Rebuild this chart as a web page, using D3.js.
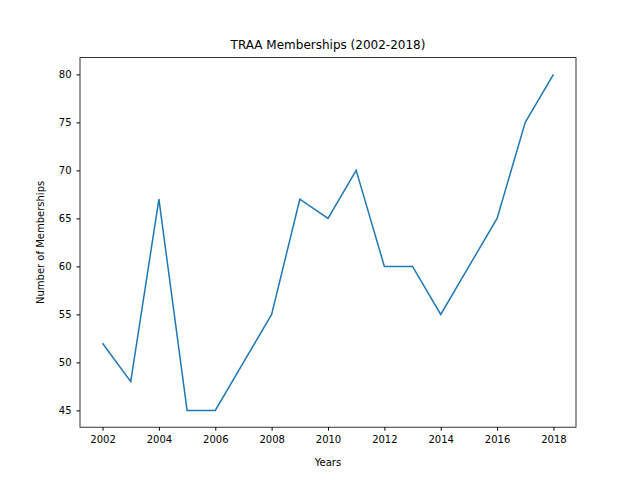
<!DOCTYPE html>
<html>
<head>
<script src="https://d3js.org/d3.v7.min.js"></script>
<style>
body { margin: 0; background: #fff; }
text { font-family: "DejaVu Sans", sans-serif; }
</style>
</head>
<body>
<svg id="chart" width="640" height="480"></svg>
<script>
const years = [2002, 2003, 2004, 2005, 2006, 2007, 2008, 2009, 2010, 2011, 2012, 2013, 2014, 2015, 2016, 2017, 2018];
const memberships = [52, 48, 67, 45, 45, 50, 55, 67, 65, 70, 60, 60, 55, 60, 65, 75, 80];
const xTicks = [2002, 2004, 2006, 2008, 2010, 2012, 2014, 2016, 2018];
const yTicks = [45, 50, 55, 60, 65, 70, 75, 80];

const plotLeft = 80, plotRight = 576, plotTop = 57.6, plotBottom = 427.2;
const svg = d3.select("#chart");

const x = d3.scaleLinear().domain([2001.2, 2018.8]).range([plotLeft, plotRight]);
const y = d3.scaleLinear().domain([43.25, 81.75]).range([plotBottom, plotTop]);

const xAxis = svg.append("g")
    .attr("transform", `translate(0,${plotBottom})`)
    .call(d3.axisBottom(x).tickValues(xTicks).tickFormat(d3.format("d")).tickSize(3.5).tickPadding(5));
const yAxis = svg.append("g")
    .attr("transform", `translate(${plotLeft},0)`)
    .call(d3.axisLeft(y).tickValues(yTicks).tickSize(3.5).tickPadding(5));
[xAxis, yAxis].forEach(a => {
    a.selectAll("text").attr("font-size", 10).attr("fill", "#000").style("font-family", "DejaVu Sans");
    a.select(".domain").remove();
});

svg.append("rect")
    .attr("x", plotLeft).attr("y", plotTop)
    .attr("width", plotRight - plotLeft).attr("height", plotBottom - plotTop)
    .attr("fill", "none").attr("stroke", "#000").attr("stroke-width", 0.8);

svg.append("path")
    .datum(years.map((yr, i) => [yr, memberships[i]]))
    .attr("fill", "none")
    .attr("stroke", "#1f77b4")
    .attr("stroke-width", 1.5)
    .attr("d", d3.line().x(d => x(d[0])).y(d => y(d[1])));

svg.append("text")
    .attr("x", (plotLeft + plotRight) / 2).attr("y", 49)
    .attr("text-anchor", "middle").attr("font-size", 12)
    .text("TRAA Memberships (2002-2018)");
svg.append("text")
    .attr("x", (plotLeft + plotRight) / 2).attr("y", 466)
    .attr("text-anchor", "middle").attr("font-size", 10)
    .text("Years");
svg.append("text")
    .attr("transform", `translate(44,${(plotTop + plotBottom) / 2}) rotate(-90)`)
    .attr("text-anchor", "middle").attr("font-size", 10)
    .text("Number of Memberships");
</script>
</body>
</html>
